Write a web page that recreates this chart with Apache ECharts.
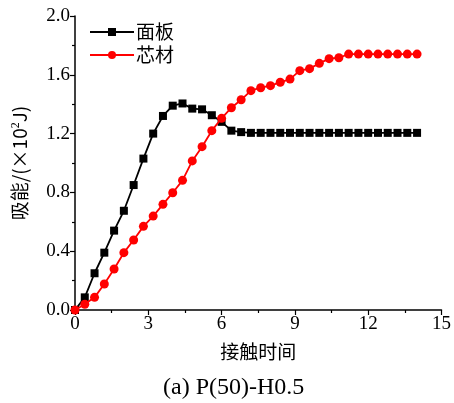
<!DOCTYPE html>
<html>
<head>
<meta charset="utf-8">
<script src="https://cdn.jsdelivr.net/npm/echarts@6/dist/echarts.min.js"></script>
<style>
html, body { margin: 0; padding: 0; background: #fff; }
#chart { width: 454px; height: 403px; }
</style>
</head>
<body>
<div id="chart"></div>
<script>
// 接触时间, 0 to 14 step 0.4
var times = [];
for (var i = 0; i <= 35; i++) times.push(+(i * 0.4).toFixed(1));

var panelData = [0, 0.086, 0.25, 0.39, 0.54, 0.675, 0.85, 1.03, 1.20, 1.32, 1.39, 1.405,
  1.37, 1.365, 1.325, 1.28, 1.22, 1.21,
  1.205, 1.205, 1.205, 1.205, 1.205, 1.205, 1.205, 1.205, 1.205,
  1.205, 1.205, 1.205, 1.205, 1.205, 1.205, 1.205, 1.205, 1.205];

var coreData = [0, 0.039, 0.086, 0.177, 0.279, 0.39, 0.476, 0.569, 0.639, 0.719, 0.798, 0.882,
  1.014, 1.111, 1.22, 1.304, 1.376, 1.43, 1.492, 1.512, 1.526, 1.549, 1.571, 1.628,
  1.642, 1.678, 1.71, 1.716,
  1.741, 1.741, 1.741, 1.741, 1.741, 1.741, 1.741, 1.741];

var seriesNames = ["面板", "芯材"];

function pairs(vals) {
  return vals.map(function (v, i) { return [times[i], v]; });
}

var serif = "'Liberation Serif', 'Noto Sans CJK SC', serif";
var cjk = "'Noto Sans CJK SC', sans-serif";

var myChart = echarts.init(document.getElementById("chart"));
var option = {
  animation: false,
  grid: { left: 75, right: 12, top: 16, bottom: 93 },
  legend: {
    left: 84,
    top: 17,
    orient: "vertical",
    itemWidth: 44,
    itemHeight: 10,
    itemGap: 3,
    textStyle: { fontSize: 19, lineHeight: 20, color: "#000", fontFamily: cjk, padding: [0, 0, 0, -3] },
    data: seriesNames
  },
  xAxis: {
    type: "value",
    min: 0,
    max: 15,
    interval: 3,
    name: "接触时间",
    nameLocation: "middle",
    nameGap: 32,
    nameTextStyle: { fontSize: 19, color: "#000", fontFamily: cjk },
    axisLine: { lineStyle: { color: "#000", width: 1.5 } },
    axisTick: { length: 5, lineStyle: { color: "#000", width: 1.2 } },
    minorTick: { show: true, splitNumber: 2, length: 3, lineStyle: { color: "#000", width: 1.2 } },
    splitLine: { show: false },
    axisLabel: { fontSize: 19, color: "#000", fontFamily: serif, margin: 5 }
  },
  yAxis: {
    type: "value",
    min: 0,
    max: 2.0,
    interval: 0.4,
    name: "{a|吸能/(×10}{s|2}{a|J)}",
    nameLocation: "middle",
    nameGap: 45,
    nameRotate: 90,
    nameTextStyle: {
      color: "#000",
      rich: {
        a: { fontSize: 19, fontFamily: cjk, color: "#000" },
        s: { fontSize: 12, fontFamily: serif, color: "#000", verticalAlign: "top", padding: [0, 0, 8, 0] }
      }
    },
    axisLine: { show: true, lineStyle: { color: "#000", width: 1.5 } },
    axisTick: { show: true, length: 5, lineStyle: { color: "#000", width: 1.2 } },
    minorTick: { show: true, splitNumber: 2, length: 3, lineStyle: { color: "#000", width: 1.2 } },
    splitLine: { show: false },
    axisLabel: {
      fontSize: 19, color: "#000", fontFamily: serif, margin: 5,
      formatter: function (v) { return v.toFixed(1); }
    }
  },
  graphic: [{
    type: "text",
    left: 163,
    top: 376,
    style: { text: "(a) P(50)-H0.5", fontSize: 24, fontFamily: serif, fill: "#000" }
  }],
  series: [
    {
      name: seriesNames[0],
      type: "line",
      data: pairs(panelData),
      symbol: "rect",
      symbolSize: 8,
      itemStyle: { color: "#000" },
      lineStyle: { color: "#000", width: 1.8 },
      z: 2
    },
    {
      name: seriesNames[1],
      type: "line",
      data: pairs(coreData),
      symbol: "circle",
      symbolSize: 9,
      itemStyle: { color: "#ff0000" },
      lineStyle: { color: "#ff0000", width: 1.8 },
      z: 3
    }
  ]
};
myChart.setOption(option);
</script>
</body>
</html>
